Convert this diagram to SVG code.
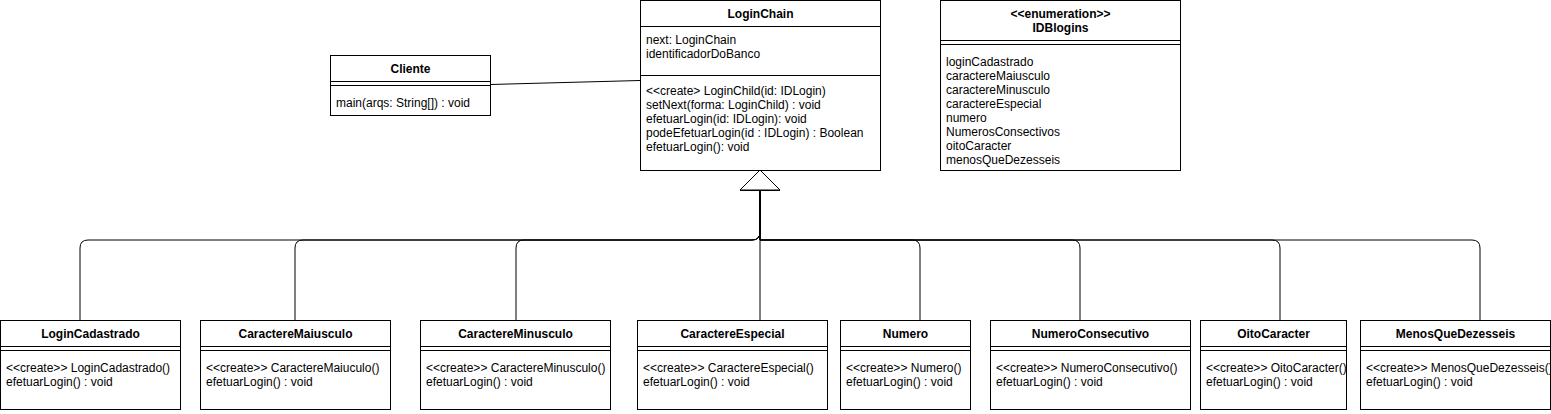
<svg xmlns="http://www.w3.org/2000/svg" width="1551" height="414" viewBox="0 0 1551 414">
<defs>
<style>
.box{fill:#fff;stroke:#000;stroke-width:1}
.ln{stroke:#000;stroke-width:1;fill:none}
.t{font-family:"Liberation Sans",Arial,Helvetica,sans-serif;font-size:12px;fill:#000}
.h{font-weight:bold;text-anchor:middle}
.edge{fill:none;stroke:#000;stroke-width:1}
</style>
<marker id="inh" markerUnits="userSpaceOnUse" viewBox="-1 -1 23 43" markerWidth="23" markerHeight="43" refX="0" refY="20" orient="auto">
<path d="M0,0 L20,20 L0,40 Z" fill="#fff" stroke="#000" stroke-width="1"/>
</marker>
</defs>
<rect width="1551" height="414" fill="#fff"/>

<g id="connectors">
<path class="edge" d="M490,84.5 L640,80.5"/>
<path class="edge" marker-end="url(#inh)" d="M80,320 V248 Q80,240 88,240 H752 Q760,240 760,232 V190"/>
<path class="edge" marker-end="url(#inh)" d="M295,320 V248 Q295,240 303,240 H752 Q760,240 760,232 V190"/>
<path class="edge" marker-end="url(#inh)" d="M516,320 V248 Q516,240 524,240 H752 Q760,240 760,232 V190"/>
<path class="edge" marker-end="url(#inh)" d="M760,320 V190"/>
<path class="edge" marker-end="url(#inh)" d="M920,320 V248 Q920,240 912,240 H760 V190"/>
<path class="edge" marker-end="url(#inh)" d="M1080,320 V248 Q1080,240 1072,240 H760 V190"/>
<path class="edge" marker-end="url(#inh)" d="M1280,320 V248 Q1280,240 1272,240 H760 V190"/>
<path class="edge" marker-end="url(#inh)" d="M1480,320 V248 Q1480,240 1472,240 H760 V190"/>
</g>

<g id="Cliente">
<rect class="box" x="330.5" y="55.5" width="160" height="60"/>
<line class="ln" x1="330.5" y1="81.5" x2="490.5" y2="81.5"/>
<line class="ln" x1="330.5" y1="85.5" x2="490.5" y2="85.5"/>
<text class="t h" x="410.5" y="73">Cliente</text>
<text class="t" x="336" y="107">main(arqs: String[]) : void</text>
</g>

<g id="LoginChain">
<rect class="box" x="640.5" y="0.5" width="240" height="170"/>
<line class="ln" x1="640.5" y1="26.5" x2="880.5" y2="26.5"/>
<line class="ln" x1="640.5" y1="75.5" x2="880.5" y2="75.5"/>
<text class="t h" x="760.5" y="18">LoginChain</text>
<text class="t" x="646" y="44">next: LoginChain</text>
<text class="t" x="646" y="58">identificadorDoBanco</text>
<text class="t" x="646" y="95">&lt;&lt;create&gt; LoginChild(id: IDLogin)</text>
<text class="t" x="646" y="109">setNext(forma: LoginChild) : void</text>
<text class="t" x="646" y="123">efetuarLogin(id: IDLogin): void</text>
<text class="t" x="646" y="137">podeEfetuarLogin(id : IDLogin) : Boolean</text>
<text class="t" x="646" y="151">efetuarLogin(): void</text>
</g>

<g id="IDBlogins">
<rect class="box" x="940.5" y="0.5" width="240" height="170"/>
<line class="ln" x1="940.5" y1="40.5" x2="1180.5" y2="40.5"/>
<line class="ln" x1="940.5" y1="44.5" x2="1180.5" y2="44.5"/>
<text class="t h" x="1060.5" y="18">&lt;&lt;enumeration&gt;&gt;</text>
<text class="t h" x="1060.5" y="32">IDBlogins</text>
<text class="t" x="946" y="66">loginCadastrado</text>
<text class="t" x="946" y="80">caractereMaiusculo</text>
<text class="t" x="946" y="94">caractereMinusculo</text>
<text class="t" x="946" y="108">caractereEspecial</text>
<text class="t" x="946" y="122">numero</text>
<text class="t" x="946" y="136">NumerosConsectivos</text>
<text class="t" x="946" y="150">oitoCaracter</text>
<text class="t" x="946" y="164">menosQueDezesseis</text>
</g>

<g id="LoginCadastrado">
<rect class="box" x="0.5" y="320.5" width="180" height="89"/>
<line class="ln" x1="0.5" y1="346.5" x2="180.5" y2="346.5"/>
<line class="ln" x1="0.5" y1="350.5" x2="180.5" y2="350.5"/>
<text class="t h" x="90.5" y="338">LoginCadastrado</text>
<text class="t" x="6" y="372">&lt;&lt;create&gt;&gt; LoginCadastrado()</text>
<text class="t" x="6" y="386">efetuarLogin() : void</text>
</g>

<g id="CaractereMaiusculo">
<rect class="box" x="200.5" y="320.5" width="190" height="89"/>
<line class="ln" x1="200.5" y1="346.5" x2="390.5" y2="346.5"/>
<line class="ln" x1="200.5" y1="350.5" x2="390.5" y2="350.5"/>
<text class="t h" x="295.5" y="338">CaractereMaiusculo</text>
<text class="t" x="206" y="372">&lt;&lt;create&gt;&gt; CaractereMaiuculo()</text>
<text class="t" x="206" y="386">efetuarLogin() : void</text>
</g>

<g id="CaractereMinusculo">
<rect class="box" x="420.5" y="320.5" width="190" height="89"/>
<line class="ln" x1="420.5" y1="346.5" x2="610.5" y2="346.5"/>
<line class="ln" x1="420.5" y1="350.5" x2="610.5" y2="350.5"/>
<text class="t h" x="515.5" y="338">CaractereMinusculo</text>
<text class="t" x="426" y="372">&lt;&lt;create&gt;&gt; CaractereMinusculo()</text>
<text class="t" x="426" y="386">efetuarLogin() : void</text>
</g>

<g id="CaractereEspecial">
<rect class="box" x="637.5" y="320.5" width="190" height="89"/>
<line class="ln" x1="637.5" y1="346.5" x2="827.5" y2="346.5"/>
<line class="ln" x1="637.5" y1="350.5" x2="827.5" y2="350.5"/>
<text class="t h" x="732.5" y="338">CaractereEspecial</text>
<text class="t" x="643" y="372">&lt;&lt;create&gt;&gt; CaractereEspecial()</text>
<text class="t" x="643" y="386">efetuarLogin() : void</text>
</g>

<g id="Numero">
<rect class="box" x="840.5" y="320.5" width="130" height="89"/>
<line class="ln" x1="840.5" y1="346.5" x2="970.5" y2="346.5"/>
<line class="ln" x1="840.5" y1="350.5" x2="970.5" y2="350.5"/>
<text class="t h" x="905.5" y="338">Numero</text>
<text class="t" x="846" y="372">&lt;&lt;create&gt;&gt; Numero()</text>
<text class="t" x="846" y="386">efetuarLogin() : void</text>
</g>

<g id="NumeroConsecutivo">
<rect class="box" x="990.5" y="320.5" width="200" height="89"/>
<line class="ln" x1="990.5" y1="346.5" x2="1190.5" y2="346.5"/>
<line class="ln" x1="990.5" y1="350.5" x2="1190.5" y2="350.5"/>
<text class="t h" x="1090.5" y="338">NumeroConsecutivo</text>
<text class="t" x="996" y="372">&lt;&lt;create&gt;&gt; NumeroConsecutivo()</text>
<text class="t" x="996" y="386">efetuarLogin() : void</text>
</g>

<g id="OitoCaracter">
<rect class="box" x="1200.5" y="320.5" width="146" height="89"/>
<line class="ln" x1="1200.5" y1="346.5" x2="1346.5" y2="346.5"/>
<line class="ln" x1="1200.5" y1="350.5" x2="1346.5" y2="350.5"/>
<text class="t h" x="1273.5" y="338">OitoCaracter</text>
<text class="t" x="1206" y="372">&lt;&lt;create&gt;&gt; OitoCaracter()</text>
<text class="t" x="1206" y="386">efetuarLogin() : void</text>
</g>

<g id="MenosQueDezesseis">
<rect class="box" x="1360.5" y="320.5" width="190" height="89"/>
<line class="ln" x1="1360.5" y1="346.5" x2="1550.5" y2="346.5"/>
<line class="ln" x1="1360.5" y1="350.5" x2="1550.5" y2="350.5"/>
<text class="t h" x="1455.5" y="338">MenosQueDezesseis</text>
<text class="t" x="1366" y="372">&lt;&lt;create&gt;&gt; MenosQueDezesseis()</text>
<text class="t" x="1366" y="386">efetuarLogin() : void</text>
</g>
</svg>
